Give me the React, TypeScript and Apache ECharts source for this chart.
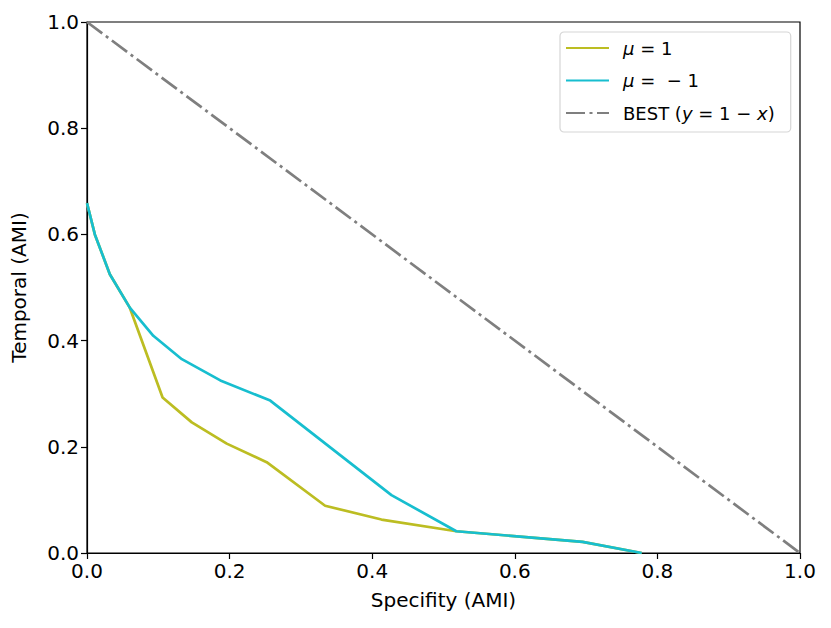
import React, { useEffect, useRef } from "react";
import * as echarts from "echarts";

const muPosX = [0, 0.011, 0.032, 0.06, 0.106, 0.147, 0.196, 0.252, 0.334, 0.413, 0.518, 0.695, 0.778];
const muPosY = [0.659, 0.6, 0.525, 0.462, 0.293, 0.246, 0.206, 0.171, 0.089, 0.063, 0.041, 0.021, 0.0];
const muNegX = [0, 0.011, 0.032, 0.06, 0.093, 0.133, 0.187, 0.257, 0.427, 0.518, 0.695, 0.778];
const muNegY = [0.659, 0.6, 0.525, 0.462, 0.409, 0.365, 0.325, 0.287, 0.109, 0.041, 0.021, 0.0];
const bestX = [0, 1];
const bestY = [1, 0];

const names = ["mu1", "mum1", "best"];
const legendLabels: Record<string, string> = {
  mu1: "{i|μ} = 1",
  mum1: "{i|μ} =  − 1",
  best: "BEST ({i|y} = 1 − {i|x})",
};

const FONT = "DejaVu Sans";
const AXIS_FS = 20;

export default function App() {
  const ref = useRef<HTMLDivElement>(null);
  useEffect(() => {
    if (!ref.current) return;
    const chart = echarts.init(ref.current, null, { renderer: "svg" });
    const zip = (xs: number[], ys: number[]) => xs.map((x, i) => [x, ys[i]]);
    const axisCommon = {
      type: "value",
      min: 0,
      max: 1,
      interval: 0.2,
      nameLocation: "middle",
      nameTextStyle: { fontFamily: FONT, fontSize: AXIS_FS, color: "#000" },
      axisLine: { show: true, lineStyle: { color: "#000", width: 1.2 } },
      axisTick: { show: true, inside: false, length: 6, lineStyle: { color: "#000", width: 1.2 } },
      axisLabel: {
        fontFamily: FONT,
        fontSize: AXIS_FS,
        color: "#000",
        margin: 8,
        formatter: (v: number) => v.toFixed(1),
      },
      splitLine: { show: false },
    };
    chart.setOption({
      animation: false,
      textStyle: { fontFamily: FONT },
      grid: {
        left: 87,
        right: 31,
        top: 22,
        bottom: 75,
        show: true,
        borderColor: "#000",
        borderWidth: 1.2,
        backgroundColor: "transparent",
      },
      legend: {
        orient: "vertical",
        left: 560,
        top: 32,
        padding: [5, 16, 8, 5],
        itemGap: 10.5,
        itemWidth: 43,
        itemHeight: 14,
        borderColor: "#d6d6d6",
        borderWidth: 1.2,
        borderRadius: 4,
        data: names,
        itemStyle: { opacity: 0 },
        formatter: (n: string) => legendLabels[n],
        textStyle: {
          fontFamily: FONT,
          fontSize: 18,
          color: "#000",
          lineHeight: 22,
          padding: [0, 0, 0, 9],
          rich: {
            i: { fontStyle: "italic", fontFamily: FONT, fontSize: 18, color: "#000", lineHeight: 22 },
          },
        },
      },
      xAxis: { ...axisCommon, name: "Specifity (AMI)", nameGap: 37 },
      yAxis: { ...axisCommon, name: "Temporal (AMI)", nameGap: 58, nameRotate: 90 },
      series: [
        {
          name: "mu1",
          type: "line",
          data: zip(muPosX, muPosY),
          symbol: "none",
          lineStyle: { color: "#bcbd22", width: 2.7 },
          itemStyle: { color: "#bcbd22" },
          z: 2,
        },
        {
          name: "mum1",
          type: "line",
          data: zip(muNegX, muNegY),
          symbol: "none",
          lineStyle: { color: "#17becf", width: 2.7 },
          itemStyle: { color: "#17becf" },
          z: 3,
        },
        {
          name: "best",
          type: "line",
          data: zip(bestX, bestY),
          symbol: "none",
          lineStyle: { color: "#7f7f7f", width: 2.7, type: [19, 4.5, 3, 4.5] },
          itemStyle: { color: "#7f7f7f" },
          z: 4,
        },
      ],
    });
    return () => chart.dispose();
  }, []);
  return <div ref={ref} style={{ width: 831, height: 628, margin: -8 }} />;
}
